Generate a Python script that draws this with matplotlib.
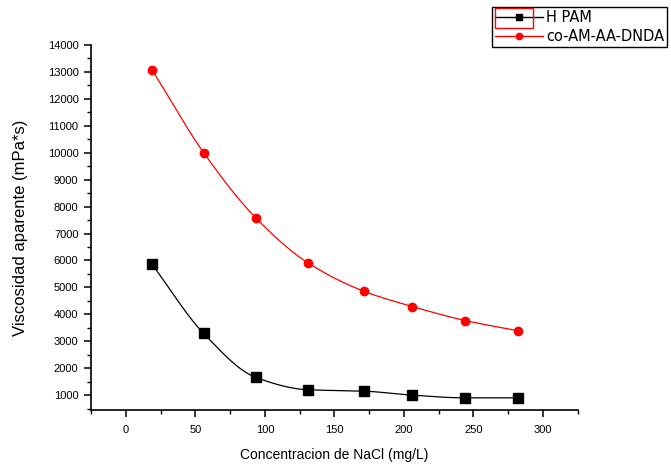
import numpy as np
import matplotlib
matplotlib.use("Agg")
import matplotlib.pyplot as plt
from matplotlib.patches import Rectangle
from matplotlib.ticker import MultipleLocator

plt.rcParams['font.family'] = ['Liberation Sans', 'DejaVu Sans']

# NaCl concentration (mg/L) and apparent viscosity (mPa*s)
nacl = [19, 56, 93.5, 131, 171, 206, 244, 282]
hpam = [5850, 3290, 1660, 1200, 1150, 1000, 900, 900]
co_am = [13070, 10000, 7580, 5910, 4860, 4290, 3770, 3390]


def pchip(x, y, n=300):
    # monotone cubic interpolation for the smoothed connecting line
    x = np.asarray(x, float)
    y = np.asarray(y, float)
    h = np.diff(x)
    d = np.diff(y) / h
    m = np.zeros_like(y)
    for k in range(1, len(x) - 1):
        if d[k - 1] * d[k] > 0:
            w1 = 2 * h[k] + h[k - 1]
            w2 = h[k] + 2 * h[k - 1]
            m[k] = (w1 + w2) / (w1 / d[k - 1] + w2 / d[k])
    m[0] = d[0]
    m[-1] = d[-1]
    xs = np.linspace(x[0], x[-1], n)
    idx = np.clip(np.searchsorted(x, xs) - 1, 0, len(h) - 1)
    t = (xs - x[idx]) / h[idx]
    h00 = 2 * t**3 - 3 * t**2 + 1
    h10 = t**3 - 2 * t**2 + t
    h01 = -2 * t**3 + 3 * t**2
    h11 = t**3 - t**2
    ys = (h00 * y[idx] + h10 * h[idx] * m[idx]
          + h01 * y[idx + 1] + h11 * h[idx] * m[idx + 1])
    return xs, ys


fig = plt.figure(figsize=(6.71, 4.68), dpi=100)
ax = fig.add_axes([0.1356, 0.124, 0.7255, 0.780])

xs, ys = pchip(nacl, hpam)
ax.plot(xs, ys, color='black', lw=0.9)
ax.plot(nacl, hpam, 's', color='black', ms=6.5)
xs, ys = pchip(nacl, co_am)
ax.plot(xs, ys, color='red', lw=0.9)
ax.plot(nacl, co_am, 'o', color='red', ms=6)

# legend handles
h1, = ax.plot([], [], color='black', marker='s', ms=5, lw=1)
h2, = ax.plot([], [], color='red', marker='o', ms=4.5, lw=1)
leg = ax.legend([h1, h2], ['H PAM', 'co-AM-AA-DNDA'],
                loc='upper left', bbox_to_anchor=(492 / 671, 1 - 7 / 468),
                bbox_transform=fig.transFigure, fancybox=False,
                edgecolor='black', framealpha=1,
                prop={'family': 'DejaVu Sans', 'size': 10.5},
                handlelength=3.3, handletextpad=0.2, borderpad=0.2,
                labelspacing=0.3, borderaxespad=0)
leg.get_frame().set_linewidth(1)
fig.patches.append(Rectangle((495 / 671, 1 - 28 / 468), 38 / 671, 20 / 468,
                             transform=fig.transFigure, fill=False,
                             edgecolor='red', lw=1))

ax.set_xlim(-25, 325)
ax.set_ylim(450, 14000)
ax.xaxis.set_major_locator(MultipleLocator(50))
ax.xaxis.set_minor_locator(MultipleLocator(25))
ax.yaxis.set_major_locator(MultipleLocator(1000))
ax.yaxis.set_minor_locator(MultipleLocator(500))
ax.set_yticks(np.arange(1000, 14001, 1000))

for side in ['top', 'right']:
    ax.spines[side].set_visible(False)
for side in ['left', 'bottom']:
    ax.spines[side].set_linewidth(1.2)

ax.tick_params(which='major', direction='out', length=5, width=1.1,
               labelsize=8, pad=4)
ax.tick_params(which='minor', direction='out', length=3, width=1)
ax.tick_params(axis='x', which='major', pad=6)

ax.set_xlabel('Concentracion de NaCl (mg/L)', fontsize=10, labelpad=9)
ax.set_ylabel('Viscosidad aparente (mPa*s)', fontsize=12, labelpad=14)

fig.savefig('out.png', dpi=100)
